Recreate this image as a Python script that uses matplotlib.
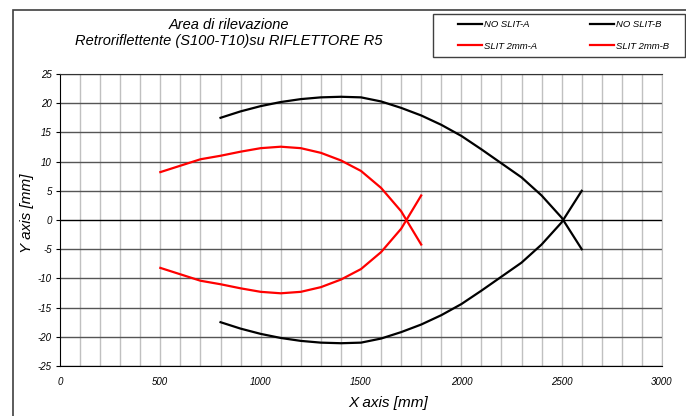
import matplotlib
matplotlib.use("Agg")
import matplotlib.pyplot as plt
from matplotlib.patches import Rectangle

# values
no_slit_x = [800, 900, 1000, 1100, 1200, 1300, 1400, 1500, 1600, 1700,
             1800, 1900, 2000, 2100, 2200, 2300, 2400, 2500, 2600]
no_slit_a = [17.5, 18.6, 19.5, 20.2, 20.7, 21.0, 21.1, 21.0, 20.3, 19.2,
             17.9, 16.3, 14.4, 12.1, 9.7, 7.3, 4.2, 0.4, -5.0]
no_slit_b = [-17.5, -18.6, -19.5, -20.2, -20.7, -21.0, -21.1, -21.0, -20.3, -19.2,
             -17.9, -16.3, -14.4, -12.1, -9.7, -7.3, -4.2, -0.4, 5.0]

slit_x = [500, 600, 700, 800, 900, 1000, 1100, 1200, 1300, 1400,
          1500, 1600, 1700, 1800]
slit_a = [8.2, 9.3, 10.4, 11.0, 11.7, 12.3, 12.55, 12.3, 11.5, 10.2,
          8.4, 5.5, 1.5, -4.2]
slit_b = [-8.2, -9.3, -10.4, -11.0, -11.7, -12.3, -12.55, -12.3, -11.5, -10.2,
          -8.4, -5.5, -1.5, 4.2]

x_ticks = [0, 500, 1000, 1500, 2000, 2500, 3000]
y_ticks = [-25, -20, -15, -10, -5, 0, 5, 10, 15, 20, 25]

plt.rcParams["font.family"] = ["Liberation Sans", "DejaVu Sans"]
plt.rcParams["axes.unicode_minus"] = False

W, H = 686, 416
fig = plt.figure(figsize=(W / 100, H / 100), dpi=100)

# chart border (right and bottom run off the image)
fig.patches.append(Rectangle((13 / W, -0.1), 1.0, 1 - 10 / H + 0.1,
                             transform=fig.transFigure, fill=False,
                             edgecolor="#404040", lw=1.2))

ax = fig.add_axes([60 / W, 1 - 366 / H, 602 / W, 292 / H])

for xv in range(100, 3001, 100):
    ax.axvline(xv, color="#c0c0c0", lw=1, zorder=1)
for yv in y_ticks:
    ax.axhline(yv, color="#000000" if yv == 0 else "#555555", lw=1, zorder=1)

l1, = ax.plot(no_slit_x, no_slit_a, color="black", lw=1.6, label="NO SLIT-A", zorder=3)
l2, = ax.plot(no_slit_x, no_slit_b, color="black", lw=1.6, label="NO SLIT-B", zorder=3)
l3, = ax.plot(slit_x, slit_a, color="#ff0000", lw=1.6, label="SLIT 2mm-A", zorder=3)
l4, = ax.plot(slit_x, slit_b, color="#ff0000", lw=1.6, label="SLIT 2mm-B", zorder=3)

ax.set_xlim(0, 3000)
ax.set_ylim(-25, 25)
ax.set_xticks(x_ticks)
ax.set_yticks(y_ticks)
ax.tick_params(axis="x", length=0, pad=8, labelsize=7)
ax.tick_params(axis="y", length=3, pad=3, labelsize=7)
for lab in ax.get_xticklabels() + ax.get_yticklabels():
    lab.set_fontstyle("italic")

for s in ["left", "bottom"]:
    ax.spines[s].set_color("black")
ax.spines["top"].set_color("#333333")
ax.spines["right"].set_color("#c0c0c0")

fig.text(388 / W, 1 - 403 / H, "X axis [mm]", ha="center", va="center",
         fontsize=11, fontstyle="italic")
fig.text(27 / W, 1 - 213 / H, "Y axis [mm]", ha="center", va="center",
         rotation=90, fontsize=11, fontstyle="italic")

fig.text(229 / W, 1 - 25 / H, "Area di rilevazione", ha="center", va="center",
         fontsize=10.5, fontstyle="italic")
fig.text(229 / W, 1 - 41 / H, "Retroriflettente (S100-T10)su RIFLETTORE R5",
         ha="center", va="center", fontsize=10.5, fontstyle="italic")

# legend box
fig.patches.append(Rectangle((433 / W, 1 - 57 / H), 252 / W, 43 / H,
                             transform=fig.transFigure, fill=False,
                             edgecolor="#404040", lw=1))
fig.legend([l1, l3, l2, l4], [l1.get_label(), l3.get_label(), l2.get_label(), l4.get_label()],
           loc="upper left", bbox_to_anchor=(458 / W, 1 - 20 / H), ncol=2,
           frameon=False, prop={"size": 6.8, "style": "italic"},
           handlelength=2.5, handletextpad=0.2, columnspacing=5.7,
           labelspacing=1.35, borderpad=0, borderaxespad=0)

fig.savefig("out.png", dpi=100)
